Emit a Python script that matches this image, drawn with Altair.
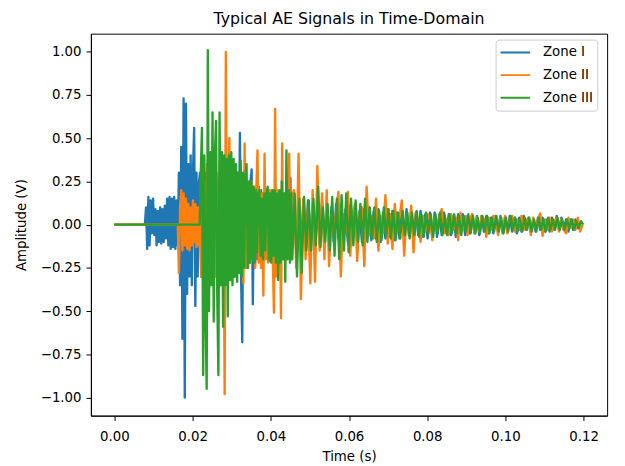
import altair as alt
import pandas as pd

zones = ["Zone I", "Zone II", "Zone III"]
colors = ["#1f77b4", "#ff7f0e", "#2ca02c"]
x_ticks = [0.0, 0.02, 0.04, 0.06, 0.08, 0.10, 0.12]
y_ticks = [-1.0, -0.75, -0.5, -0.25, 0.0, 0.25, 0.5, 0.75, 1.0]

# sampling: fine step during the burst, coarser step in the decaying tail (s)
dt_burst = 0.0003
dt_tail = 0.0006
onsets = [0.0081, 0.0165, 0.0221]

zone1_burst = [
    0.10, -0.14, 0.16, -0.12, 0.14, -0.05, 0.15, -0.06, 0.09, -0.12,
    0.08, -0.10, 0.10, -0.11, 0.09, -0.10, 0.11, -0.08, 0.15, -0.12,
    0.16, -0.14, 0.15, -0.13, 0.16, -0.14, 0.14, -0.12,
    0.30, -0.35, 0.45, -0.66, 0.73, -1.00, 0.70, -0.40, 0.35, -0.30,
    0.40, -0.35, 0.30, 0.56, -0.47, 0.30, -0.30, 0.24,
    0.30, -0.30, 0.25, -0.35, 0.30, -0.25, 0.35, -0.30, 0.28, -0.32,
    0.30, -0.25, 0.32, -0.30, 0.25, -0.28, 0.30, -0.35, 0.28, -0.30,
    0.32, -0.25, 0.30, -0.30, 0.25, -0.28, 0.30, -0.25, 0.28, -0.30,
    0.25, -0.22, 0.30, -0.25,
    0.53, -0.30, -0.68, 0.25, -0.20, 0.28, -0.25, 0.22, -0.20, 0.25, 0.32, -0.46,
    0.20, -0.22, 0.18, -0.20, 0.22, -0.18, 0.20, -0.15, 0.18, -0.20,
    0.15, -0.18, 0.20, -0.21, 0.15, -0.18, 0.16, -0.15, 0.18, -0.16,
    0.15, -0.18, 0.16, -0.14, 0.15, -0.16, 0.14, -0.12, 0.16, -0.14,
    0.12, 0.27, -0.20,
]
zone1_tail = [
    0.15, -0.15, 0.12, -0.14, 0.13, -0.12,
    0.14, -0.11, 0.12, -0.13, 0.10, -0.12, 0.13, -0.09, 0.11, -0.12, 0.10, -0.10, 0.12, -0.08, 0.10, -0.11, 0.09, -0.10, 0.11, -0.08,
    0.10, -0.09, 0.08, -0.10, 0.09, -0.07, 0.10, -0.09, 0.08, -0.08, 0.09, -0.10, 0.07, -0.08, 0.09, -0.07, 0.08, -0.09, 0.07, -0.08,
    0.08, -0.07, 0.09, -0.06, 0.08, -0.08, 0.07, -0.06, 0.08, -0.07, 0.06, -0.08, 0.07, -0.06, 0.07, -0.07, 0.06, -0.06, 0.07, -0.05,
    0.06, -0.06, 0.05, -0.07, 0.06, -0.05, 0.06, -0.06, 0.05, -0.05, 0.06, -0.05, 0.05, -0.06, 0.05, -0.04, 0.05, -0.05, 0.04, -0.05,
    0.05, -0.04, 0.05, -0.05, 0.04, -0.04, 0.05, -0.04, 0.04, -0.05, 0.04, -0.04, 0.05, -0.03, 0.04, -0.04, 0.03, -0.04, 0.04, -0.03,
    0.04, -0.04, 0.03, -0.04, 0.04, -0.03, 0.05, -0.03, 0.04, -0.03, 0.03, -0.04, 0.03, -0.03, 0.03, -0.02, 0.01,
]

zone2_burst = [
    -0.28, 0.10, 0.20, -0.15, 0.18, -0.12, 0.15, -0.14, 0.12, -0.15,
    0.10, -0.12, 0.14, -0.10, 0.12, -0.13, 0.10, -0.12, 0.12,
    -0.30, 0.30, -0.35, 0.25, -0.30, 0.35, -0.25, 0.30, -0.35, 0.28,
    -0.30, 0.35, -0.30, 0.25, -0.35, 0.30, -0.28, 0.30, -0.30,
    0.20, -0.98, 1.00, -0.30, 0.25, 0.50, -0.32, 0.25, -0.30, 0.28, -0.25, 0.30, -0.28,
    0.25, -0.25, 0.22, -0.20, -0.34, 0.47, -0.25, 0.22, -0.25, 0.20,
    -0.22, 0.25, -0.20, 0.22, -0.25, 0.20, 0.43, -0.22, 0.20, -0.25,
    0.18, -0.41, 0.41, -0.20, 0.18, -0.22, 0.20, -0.20, 0.20, -0.18,
    -0.51, 0.67, -0.30, 0.20, -0.22, 0.18, -0.54, 0.47, -0.20, 0.18,
    -0.20, 0.20, -0.15, 0.41, -0.20, 0.15,
]
zone2_tail = [
    0.20, -0.25, 0.41, -0.43, 0.15, -0.20, 0.10, -0.34, 0.20, -0.33,
    0.34, -0.15, 0.18, -0.20,
    0.20, -0.24, 0.05, -0.06, 0.08, 0.19, -0.30, 0.06, -0.05, 0.19,
    -0.18, 0.05, 0.12, -0.21, 0.06, 0.10, -0.24, 0.22, -0.06, 0.05,
    -0.08, 0.15, -0.15, 0.05, -0.05, 0.17, -0.11, 0.06, -0.14, 0.12,
    -0.05, 0.04, 0.14, -0.18, 0.05, -0.04, 0.11, -0.16,
    0.07, 0.02, -0.10, 0.05, -0.04, 0.06, 0.03, -0.09, 0.04, -0.03,
    0.05, 0.09, -0.05, 0.03, -0.06, 0.06, -0.03, 0.04, -0.09, 0.07,
    -0.03, 0.05, -0.06, 0.03, 0.06, -0.05, 0.04, -0.04, 0.05, 0.03,
    -0.07, 0.04, -0.03, 0.05, 0.03, -0.06, 0.04, -0.03, 0.05, -0.05,
    0.03, 0.05, -0.04, 0.03, -0.03, 0.05, -0.03, 0.03, 0.02, -0.06,
    0.04, -0.02, 0.03, 0.065, -0.065, 0.03, -0.03, 0.04, -0.04, 0.02,
    0.04, -0.04, 0.03, -0.03, -0.05, 0.04, -0.02, 0.03, -0.03, 0.04,
    -0.04, 0.00,
]

zone3_burst = [
    0.30, 0.56, -0.87, 0.40, -0.50, -0.95, 1.01, -0.50, 0.42, -0.35,
    0.65, -0.56, 0.40, 0.60, -0.40, -0.87, 0.65, -0.35, 0.42, -0.59,
    0.40, -0.35, 0.38, -0.53, 0.40, -0.32, 0.42, -0.35, 0.38, -0.30,
    0.35, -0.33, 0.30, -0.28, 0.37, -0.30, 0.30, -0.25, 0.28, 0.35,
    -0.25, 0.25, -0.22, 0.25, -0.20, 0.22, -0.22, 0.20, -0.16, 0.18,
    0.20, -0.18, 0.15, -0.20, 0.18, -0.15, 0.18, 0.22, -0.20, 0.18,
    -0.22, 0.20, -0.18, 0.20, -0.22, 0.18, -0.32, 0.20, -0.22, 0.25,
    -0.20, 0.18, -0.33, 0.43, -0.20, 0.20, -0.22, 0.18, -0.20,
]
zone3_tail = [
    0.18, -0.30, 0.15, -0.28, 0.16, -0.15, 0.14, -0.15, 0.15, -0.12,
    0.22, -0.13, 0.10, -0.10, 0.12, -0.15, 0.16, -0.18, 0.15, -0.20,
    0.17, -0.15, 0.18, -0.16, 0.15, -0.12, 0.14, -0.10, 0.12, -0.12, 0.15, -0.10, 0.10, -0.08, 0.10,
    -0.10, 0.08, -0.09, 0.10, -0.07, 0.09, -0.08, 0.08, -0.09, 0.07, -0.08, 0.08, -0.06, 0.07, -0.08,
    0.07, -0.06, 0.08, -0.07, 0.06, -0.07, 0.07, -0.05, 0.06, -0.07, 0.06, -0.05, 0.07, -0.06, 0.05,
    -0.06, 0.06, -0.05, 0.06, -0.05, 0.05, -0.06, 0.05, -0.04, 0.06, -0.05, 0.05, -0.05, 0.04, -0.05,
    0.05, -0.04, 0.05, -0.05, 0.04, -0.04, 0.05, -0.04, 0.04, -0.05, 0.04, -0.04, 0.05, -0.03, 0.04,
    -0.04, 0.03, -0.04, 0.04, -0.03, 0.04, -0.04, 0.03, -0.04, 0.04, -0.03, 0.03, -0.04, 0.04, -0.03,
    0.03, -0.03, 0.04, -0.03, 0.03, -0.03, 0.03, -0.02, 0.03, -0.03, 0.02, -0.02, 0.02, 0.00,
]


def frame(name, onset, burst, tail):
    # flat zero line before the onset, then the sampled signal
    t = [0.0, onset - dt_burst] + [onset + j * dt_burst for j in range(len(burst))]
    end = onset + (len(burst) - 1) * dt_burst
    t += [end + (k + 1) * dt_tail for k in range(len(tail))]
    v = [0.0, 0.0] + burst + tail
    return pd.DataFrame({"time": t, "amp": v, "zone": name})


FONT = "DejaVu Sans"

color = alt.Color(
    "zone:N",
    scale=alt.Scale(domain=zones, range=colors),
    legend=alt.Legend(
        title=None,
        orient="none",
        legendX=410,
        legendY=6,
        symbolType="stroke",
        symbolSize=900,
        symbolStrokeWidth=2,
        labelFont=FONT,
        labelFontSize=13.5,
        labelColor="black",
        labelOffset=12,
        strokeColor="#cccccc",
        fillColor="white",
        cornerRadius=3,
        padding=4,
        clipHeight=18,
        rowPadding=5,
    ),
)
x = alt.X(
    "time:Q",
    scale=alt.Scale(domain=[-0.006, 0.126], nice=False, zero=False),
    axis=alt.Axis(title="Time (s)", values=x_ticks, format=".2f", labelPadding=9, titlePadding=7),
)
y = alt.Y(
    "amp:Q",
    scale=alt.Scale(domain=[-1.105, 1.105], nice=False, zero=False),
    axis=alt.Axis(title="Amplitude (V)", values=y_ticks, format=".2f", labelPadding=5, titlePadding=12),
)

data = [
    (zones[0], onsets[0], zone1_burst, zone1_tail),
    (zones[1], onsets[1], zone2_burst, zone2_tail),
    (zones[2], onsets[2], zone3_burst, zone3_tail),
]

layers = [
    alt.Chart(frame(*d))
    .mark_line(strokeWidth=2.4, strokeJoin="round", clip=True)
    .encode(x=x, y=y, color=color)
    for d in data
]

chart = (
    alt.layer(*layers)
    .properties(
        width=523,
        height=387,
        title=alt.TitleParams(
            "Typical AE Signals in Time-Domain",
            font=FONT,
            fontSize=16,
            fontWeight="normal",
            color="black",
            anchor="middle",
            offset=7,
        ),
        autosize=alt.AutoSizeParams(type="none"),
        padding={"left": 84, "top": 23, "right": 10, "bottom": 48},
    )
    .configure_view(stroke="black", strokeWidth=1)
    .configure_axis(
        grid=False,
        domainColor="black",
        domainWidth=1,
        tickColor="black",
        tickWidth=1,
        tickSize=5,
        labelFont=FONT,
        labelFontSize=13.5,
        labelColor="black",
        titleFont=FONT,
        titleFontSize=13.5,
        titleFontWeight="normal",
        titleColor="black",
    )
)

chart.save("out.html", embed_options={"renderer": "svg", "actions": False})
